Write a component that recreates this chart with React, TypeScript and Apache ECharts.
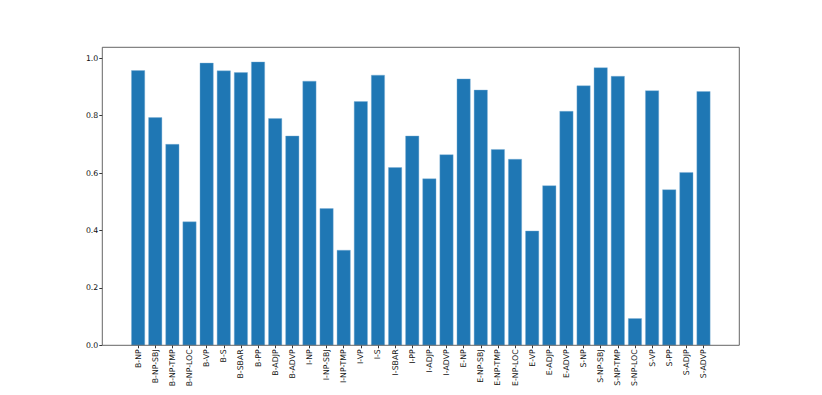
import React, { useEffect, useRef } from "react";
import * as echarts from "echarts";

const categories = [
  "B-NP", "B-NP-SBJ", "B-NP-TMP", "B-NP-LOC", "B-VP", "B-S", "B-SBAR", "B-PP", "B-ADJP", "B-ADVP",
  "I-NP", "I-NP-SBJ", "I-NP-TMP", "I-VP", "I-S", "I-SBAR", "I-PP", "I-ADJP", "I-ADVP",
  "E-NP", "E-NP-SBJ", "E-NP-TMP", "E-NP-LOC", "E-VP", "E-ADJP", "E-ADVP",
  "S-NP", "S-NP-SBJ", "S-NP-TMP", "S-NP-LOC", "S-VP", "S-PP", "S-ADJP", "S-ADVP",
];

const values = [
  0.958, 0.794, 0.701, 0.431, 0.984, 0.957, 0.951, 0.988, 0.791, 0.730,
  0.921, 0.477, 0.332, 0.850, 0.942, 0.620, 0.730, 0.581, 0.665,
  0.929, 0.890, 0.683, 0.649, 0.399, 0.557, 0.816,
  0.905, 0.968, 0.938, 0.094, 0.888, 0.543, 0.603, 0.885,
];

const yTicks = [0, 0.2, 0.4, 0.6, 0.8, 1.0];

export default function App() {
  const ref = useRef<HTMLDivElement>(null);

  useEffect(() => {
    if (!ref.current) return;
    const chart = echarts.init(ref.current, undefined, { renderer: "svg" });

    const frameLeft = 102.3;
    const frameRight = 739.3;
    const frameTop = 47.3;
    const frameBottom = 345.3;
    const n = categories.length;
    const unit = (frameRight - frameLeft) / (n - 1 + 0.8 + 0.1 * (n - 0.2));
    const margin = 0.05 * (n - 1 + 0.8);
    const firstCenter = frameLeft + (0.4 + margin) * unit;
    const gridLeft = firstCenter - unit / 2;
    const gridWidth = unit * n;
    const yTop = frameBottom - 287;

    const font = "DejaVu Sans";

    chart.setOption({
      animation: false,
      backgroundColor: "#ffffff",
      grid: {
        left: gridLeft,
        top: yTop,
        width: gridWidth,
        height: frameBottom - yTop,
        containLabel: false,
      },
      xAxis: {
        type: "category",
        data: categories,
        axisLine: { show: false },
        axisTick: { show: true, alignWithLabel: true, length: 3, lineStyle: { color: "#000", width: 0.8 } },
        axisLabel: {
          interval: 0,
          rotate: 90,
          margin: 4,
          fontSize: 7.8,
          fontFamily: font,
          color: "#111",
        },
        splitLine: { show: false },
      },
      yAxis: {
        type: "value",
        min: 0,
        max: 1.0,
        interval: 0.2,
        offset: gridLeft - frameLeft,
        axisLine: { show: false },
        axisTick: { show: true, length: 3, lineStyle: { color: "#000", width: 0.8 } },
        axisLabel: {
          margin: 4,
          fontSize: 7.8,
          fontFamily: font,
          color: "#111",
          formatter: (v: number) => {
            const hit = yTicks.find((t) => Math.abs(t - v) < 1e-6);
            return hit === undefined ? "" : hit.toFixed(1);
          },
        },
        splitLine: { show: false },
      },
      series: [
        {
          type: "bar",
          data: values,
          barWidth: "80%",
          itemStyle: { color: "#1f77b4", borderColor: "#7fb0d6", borderWidth: 0.4 },
        },
      ],
      graphic: [
        {
          type: "rect",
          z: 100,
          shape: {
            x: frameLeft,
            y: frameTop,
            width: frameRight - frameLeft,
            height: frameBottom - frameTop,
          },
          style: { fill: "none", stroke: "#555", lineWidth: 0.9 },
          silent: true,
        },
      ],
    });

    return () => chart.dispose();
  }, []);

  return (
    <div
      ref={ref}
      style={{ position: "fixed", left: 0, top: 0, width: 822, height: 395, background: "#fff" }}
    />
  );
}
